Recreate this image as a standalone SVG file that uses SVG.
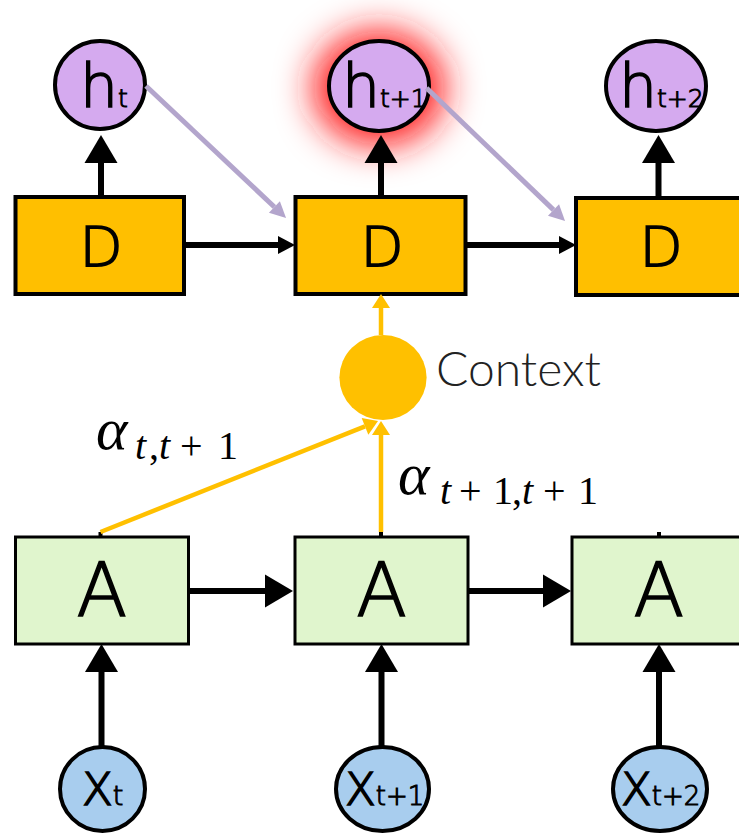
<svg xmlns="http://www.w3.org/2000/svg" width="739" height="833" viewBox="0 0 739 833">
<style>
.dbox{fill:#ffbf00;stroke:#000;stroke-width:4}
.abox{fill:#e0f5cd;stroke:#000;stroke-width:3}
.hnode{fill:#d5aaef;stroke:#000;stroke-width:4}
.xnode{fill:#a8cdee;stroke:#000;stroke-width:4}
.lbl{font-family:"DejaVu Sans",sans-serif;font-weight:200;fill:#000;stroke:#000;stroke-width:1.6}
.lbl tspan{stroke-width:1}
.blk{stroke:#000;stroke-width:6;fill:none}
.yel{stroke:#ffc000;stroke-width:4.5;fill:none}
.pur{stroke:#b3a5cc;stroke-width:5;fill:none}
.math{font-family:"Liberation Serif","DejaVu Serif",serif;font-style:italic;fill:#000}
.up{font-style:normal}
</style>
<defs>
<marker id="big" markerUnits="userSpaceOnUse" markerWidth="28" markerHeight="33" refX="0" refY="16.5" orient="auto" overflow="visible"><path d="M0,0 L28,16.5 L0,33 z" fill="#000"/></marker>
<marker id="small" markerUnits="userSpaceOnUse" markerWidth="17" markerHeight="18" refX="0" refY="9" orient="auto" overflow="visible"><path d="M0,0 L17,9 L0,18 z" fill="#000"/></marker>
<marker id="yarr" markerUnits="userSpaceOnUse" markerWidth="14" markerHeight="18" refX="0" refY="9" orient="auto" overflow="visible"><path d="M0,0 L14,9 L0,18 z" fill="#ffc000"/></marker>
<marker id="parr" markerUnits="userSpaceOnUse" markerWidth="16" markerHeight="16" refX="0" refY="8" orient="auto" overflow="visible"><path d="M0,0 L16,8 L0,16 z" fill="#b3a5cc"/></marker>
<filter id="glow" x="-1" y="-1" width="3" height="3"><feGaussianBlur stdDeviation="18"/></filter>
</defs>
<rect width="739" height="833" fill="#fff"/>
<g id="glow-h2"><ellipse cx="379" cy="88" rx="66" ry="58" fill="#ff1a1a" filter="url(#glow)"/></g>
<g id="h1"><ellipse class="hnode" cx="100" cy="85" rx="45" ry="44"/><text class="lbl" x="80" y="107" font-size="60">h<tspan font-size="25">t</tspan></text></g>
<g id="h2"><ellipse class="hnode" cx="379" cy="86" rx="50" ry="45"/><text class="lbl" x="342" y="107" font-size="60">h<tspan font-size="25">t+1</tspan></text></g>
<g id="h3"><ellipse class="hnode" cx="656" cy="86" rx="50" ry="45"/><text class="lbl" x="619" y="107" font-size="60">h<tspan font-size="25">t+2</tspan></text></g>
<g id="D1"><rect class="dbox" x="15.5" y="197" width="168.5" height="97"/><text class="lbl" x="101" y="266" font-size="56" text-anchor="middle">D</text></g>
<g id="D2"><rect class="dbox" x="295.5" y="197" width="170" height="97"/><text class="lbl" x="382" y="266" font-size="56" text-anchor="middle">D</text></g>
<g id="D3"><rect class="dbox" x="576" y="198" width="170" height="97"/><text class="lbl" x="661" y="266" font-size="56" text-anchor="middle">D</text></g>
<g id="context"><ellipse cx="383" cy="377.5" rx="43.6" ry="42.5" fill="#ffc000"/><text x="436" y="386" font-family="Lato,sans-serif" font-weight="300" font-size="48" fill="#222">Context</text></g>
<g id="A1"><rect class="abox" x="15.5" y="537" width="173" height="107"/><text class="lbl" x="101.7" y="616" font-size="74" stroke-width="2.2" text-anchor="middle">A</text></g>
<g id="A2"><rect class="abox" x="295" y="537" width="173" height="107"/><text class="lbl" x="381.6" y="616" font-size="74" stroke-width="2.2" text-anchor="middle">A</text></g>
<g id="A3"><rect class="abox" x="572" y="537" width="175" height="107"/><text class="lbl" x="658.7" y="616" font-size="74" stroke-width="2.2" text-anchor="middle">A</text></g>
<g id="x1"><ellipse class="xnode" cx="102.5" cy="789" rx="42.5" ry="42"/><text class="lbl" x="82" y="805" font-size="45">X<tspan font-size="27">t</tspan></text></g>
<g id="x2"><ellipse class="xnode" cx="382.5" cy="789" rx="46.5" ry="42"/><text class="lbl" x="345" y="805" font-size="45">X<tspan font-size="26">t+1</tspan></text></g>
<g id="x3"><ellipse class="xnode" cx="660" cy="789" rx="47" ry="42"/><text class="lbl" x="621" y="805" font-size="45">X<tspan font-size="26">t+2</tspan></text></g>
<g id="labels">
<text class="math" x="96" y="449" font-size="60">α</text>
<text class="math" y="459" font-size="40"><tspan x="135">t</tspan><tspan class="up" x="149">,</tspan><tspan x="159">t</tspan><tspan class="up" x="180">+</tspan><tspan class="up" x="218">1</tspan></text>
<text class="math" x="398" y="494" font-size="60">α</text>
<text class="math" y="504" font-size="40"><tspan x="440">t</tspan><tspan class="up" x="459">+</tspan><tspan class="up" x="493">1</tspan><tspan class="up" x="512">,</tspan><tspan x="522">t</tspan><tspan class="up" x="543">+</tspan><tspan class="up" x="578">1</tspan></text>
</g>
<g id="connectors">
<line class="blk" x1="101" y1="197" x2="101" y2="163" marker-end="url(#big)"/>
<line class="blk" x1="381" y1="197" x2="381" y2="163" marker-end="url(#big)"/>
<line class="blk" x1="658.5" y1="198" x2="658.5" y2="163" marker-end="url(#big)"/>
<line class="blk" x1="184" y1="245" x2="278" y2="245" marker-end="url(#small)"/>
<line class="blk" x1="465.5" y1="245" x2="559" y2="245" marker-end="url(#small)"/>
<line class="blk" x1="188.5" y1="591" x2="265" y2="591" marker-end="url(#big)"/>
<line class="blk" x1="468" y1="591" x2="543" y2="591" marker-end="url(#big)"/>
<line class="blk" x1="101.5" y1="747" x2="101.5" y2="672" marker-end="url(#big)"/>
<line class="blk" x1="381.5" y1="747" x2="381.5" y2="672" marker-end="url(#big)"/>
<line class="blk" x1="659" y1="747" x2="659" y2="672" marker-end="url(#big)"/>
<rect x="98.5" y="532" width="4" height="5" fill="#000"/>
<rect x="379" y="532" width="4" height="5" fill="#000"/>
<rect x="657" y="532" width="4" height="5" fill="#000"/>
<line class="yel" x1="381" y1="335" x2="381" y2="308" marker-end="url(#yarr)"/>
<line class="yel" x1="381" y1="532" x2="381" y2="435" marker-end="url(#yarr)"/>
<line class="yel" x1="100.5" y1="532" x2="365" y2="426.3" marker-end="url(#yarr)"/>
<line class="pur" x1="146" y1="86" x2="274.4" y2="207" marker-end="url(#parr)"/>
<line class="pur" x1="426.5" y1="88" x2="553.5" y2="209.9" marker-end="url(#parr)"/>
</g>
</svg>
